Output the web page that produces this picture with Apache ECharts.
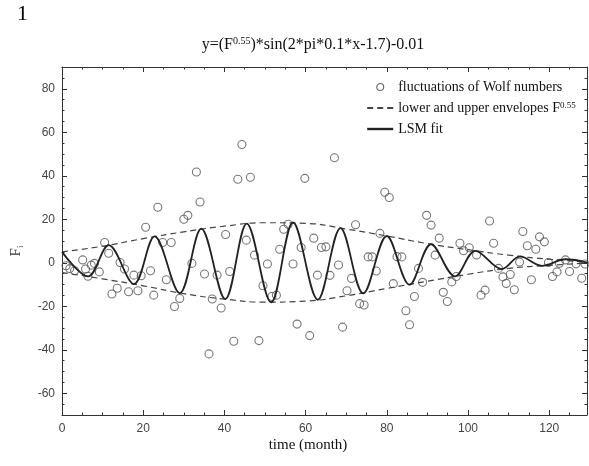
<!DOCTYPE html>
<html><head><meta charset="utf-8">
<script src="https://cdn.jsdelivr.net/npm/echarts@6/dist/echarts.min.js"></script>
<style>html,body{margin:0;padding:0;background:#fff}#c{width:589px;height:466px}</style>
</head><body><div id="c"></div>
<script>
// Data
const wolfX = [1.0,1.9,3.1,5.1,5.8,6.4,7.2,8.0,9.2,10.5,11.5,12.3,13.6,14.3,15.4,16.4,17.7,18.7,19.5,20.6,21.8,22.6,23.6,24.8,25.7,26.9,27.7,29.0,30.0,31.0,32.0,33.1,34.0,35.1,36.2,37.0,38.2,39.2,40.3,41.3,42.3,43.3,44.3,45.4,46.4,47.4,48.5,49.5,50.6,51.7,52.8,53.6,54.6,55.7,56.9,57.9,58.9,59.8,61.0,62.0,62.9,63.9,65.0,66.0,67.1,68.1,69.1,70.2,71.3,72.3,73.3,74.4,75.4,76.4,77.4,78.3,79.5,80.6,81.6,82.5,83.7,84.7,85.6,86.8,87.8,88.8,89.8,90.9,91.9,92.9,93.9,94.9,96.0,97.1,98.0,98.9,100.3,102.1,103.2,104.2,105.3,106.3,107.5,108.6,109.4,110.4,111.4,112.7,113.5,114.6,115.6,116.7,117.6,118.8,119.8,120.8,121.9,122.5,124.0,125.0,126.6,128.0,128.8];
const wolfY = [-1.4,-2.7,-3.7,1.3,-2.9,-6.2,-1.1,-0.3,-4.2,9.3,4.4,-14.4,-11.7,0.1,-2.9,-13.3,-5.7,-12.9,-6.0,16.3,-3.7,-14.9,25.5,9.3,-7.8,9.3,-20.1,-16.4,20.0,21.8,-0.3,41.7,27.9,-5.2,-41.9,-16.7,-5.7,-20.8,13.0,-4.0,-36.1,38.4,54.4,10.4,39.3,3.5,-35.8,-10.6,-0.6,-15.5,-14.9,6.2,15.4,17.7,-0.6,-28.2,7.0,38.8,-33.5,11.3,-5.7,7.0,7.3,-5.8,48.3,-1.0,-29.6,-12.9,-7.2,17.5,-18.8,-19.4,2.7,2.7,-3.8,13.5,32.4,30.0,-9.6,2.8,2.7,-22.1,-28.5,-15.5,-2.6,-9.0,21.8,17.3,3.5,11.3,-13.6,-17.8,-8.8,-6.3,9.0,5.5,6.9,3.6,-14.9,-12.6,19.2,9.0,-2.6,-6.5,-9.5,-5.4,-12.4,0.3,14.4,7.8,-7.8,6.2,11.9,9.6,0.1,-6.3,-4.2,-0.2,1.3,-4.0,-0.5,-7.1,-0.6];

const fitX = [0,6.4,11.5,17.7,22.8,29.0,34.3,40.2,45.5,51.5,56.9,63.0,68.6,74.2,80.0,85.6,90.9,96.8,101.8,108.3,112.8,118.2,124.0,129.3];
const fitY = [5.0,-6.3,8.1,-9.8,12.1,-14.0,15.7,-16.7,18.0,-18.2,18.5,-17.0,15.9,-14.1,12.3,-10.1,8.5,-6.3,5.5,-2.9,2.9,-1.4,1.6,0.1];

const envX = [0,10,20,30,40,50,60,70,80,90,100,110,120,129.3];
const upperY = [5.0,7.6,11.1,14.2,16.8,18.4,18.1,15.5,12.3,8.8,6.0,3.5,1.6,0.3];
const lowerY = [-4.5,-7.4,-10.6,-14.2,-16.7,-18.1,-17.6,-15.2,-11.8,-8.5,-5.3,-2.6,-1.2,-0.2];

const xTicks = [0,20,40,60,80,100,120];
const yTicks = [-60,-40,-20,0,20,40,60,80];
const xRange = [0,129.3];
const yRange = [-70,90];

const nameWolf = 'fluctuations of Wolf numbers';
const nameEnv = 'lower and upper envelopes F0.55';
const nameFit = 'LSM fit';

const zip = (a,b) => a.map((v,i)=>[v,b[i]]);
const serif = '"Liberation Serif", "Times New Roman", serif';
const sans = '"Liberation Sans", Arial, sans-serif';
const axCol = '#333';

function xAx(pos, major){
  return {
    type:'value', min:xRange[0], max:xRange[1], position:pos,
    interval: major ? undefined : 5,
    axisLine:{show:major, onZero:false, lineStyle:{color:axCol,width:1}},
    axisTick: major ? {show:true, inside:true, length:5, customValues:xTicks, lineStyle:{color:axCol}}
                    : {show:true, inside:true, length:2.5, lineStyle:{color:axCol}},
    axisLabel: (major && pos==='bottom') ? {show:true, customValues:xTicks, color:'#444', fontSize:12, fontFamily:sans, margin:8} : {show:false},
    splitLine:{show:false}
  };
}
function yAx(pos, major){
  return {
    type:'value', min:yRange[0], max:yRange[1], position:pos,
    interval: major ? undefined : 5,
    axisLine:{show:major, onZero:false, lineStyle:{color:axCol,width:1}},
    axisTick: major ? {show:true, inside:true, length:5, customValues:yTicks, lineStyle:{color:axCol}}
                    : {show:true, inside:true, length:2.5, lineStyle:{color:axCol}},
    axisLabel: (major && pos==='left') ? {show:true, customValues:yTicks, color:'#444', fontSize:12, fontFamily:sans, margin:7} : {show:false},
    splitLine:{show:false}
  };
}

const chart = echarts.init(document.getElementById('c'), null, {renderer:'canvas'});
chart.setOption({
  animation:false,
  backgroundColor:'#fff',
  grid:{left:62, right:2, top:67, bottom:51, containLabel:false},
  xAxis:[xAx('bottom',true), xAx('bottom',false), xAx('top',true), xAx('top',false)],
  yAxis:[yAx('left',true), yAx('left',false), yAx('right',true), yAx('right',false)],
  legend:{
    orient:'vertical', left:366, top:80, padding:0, itemWidth:26, itemHeight:7, itemGap:7,
    data:[
      {name:nameWolf, itemStyle:{borderWidth:1.1, borderColor:'#444', color:'rgba(255,255,255,0)'}},
      {name:nameEnv, itemStyle:{opacity:0}},
      {name:nameFit, itemStyle:{opacity:0}, lineStyle:{width:2.4}}
    ],
    formatter: function(n){
      if (n === nameEnv) return '{a|lower and upper envelopes F}{s|0.55}';
      return '{a|' + n + '}';
    },
    textStyle:{
      color:'#111',
      rich:{
        a:{fontSize:14, fontFamily:serif, color:'#111', lineHeight:14},
        s:{fontSize:9, fontFamily:serif, color:'#111', lineHeight:8, verticalAlign:'top'}
      }
    }
  },
  graphic:[
    {type:'text', left:17, top:3, style:{text:'1', font:'22px '+serif, fill:'#000'}},
    {type:'text', x:313, y:45, style:{
      text:'{a|y=(F}{s|0.55}{a|)*sin(2*pi*0.1*x-1.7)-0.01}',
      align:'center', verticalAlign:'middle',
      rich:{
        a:{fontSize:16, fontFamily:serif, fill:'#111', lineHeight:18},
        s:{fontSize:10, fontFamily:serif, fill:'#111', lineHeight:9, verticalAlign:'top'}
      }
    }},
    {type:'text', x:308, y:445, style:{text:'time (month)', font:'15px '+serif, fill:'#111', align:'center', verticalAlign:'middle'}},
    {type:'text', x:16, y:251, rotation:Math.PI/2, style:{
      text:'{a|F}{b|i}', align:'center', verticalAlign:'middle',
      rich:{
        a:{fontSize:15, fontFamily:serif, fill:'#333', lineHeight:18},
        b:{fontSize:9, fontFamily:serif, fill:'#333', lineHeight:9, verticalAlign:'bottom'}
      }
    }}
  ],
  series:[
    {
      name:nameWolf, type:'scatter', xAxisIndex:0, yAxisIndex:0,
      data: zip(wolfX, wolfY), symbol:'circle', symbolSize:8,
      itemStyle:{color:'rgba(255,255,255,0)', borderColor:'#555', borderWidth:1.1},
      z:2
    },
    {
      name:nameEnv, type:'line', xAxisIndex:0, yAxisIndex:0,
      data: zip(envX, upperY), smooth:0.5, symbol:'none', showSymbol:false,
      itemStyle:{color:'#444'},
      lineStyle:{color:'#444', width:1.2, type:[6,4]}, z:3
    },
    {
      name:nameEnv, type:'line', xAxisIndex:0, yAxisIndex:0,
      data: zip(envX, lowerY), smooth:0.5, symbol:'none', showSymbol:false,
      itemStyle:{color:'#444'},
      lineStyle:{color:'#444', width:1.2, type:[6,4]}, z:3
    },
    {
      name:nameFit, type:'line', xAxisIndex:0, yAxisIndex:0,
      data: zip(fitX, fitY), smooth:0.35, symbol:'none', showSymbol:false,
      itemStyle:{color:'#222'},
      lineStyle:{color:'#222', width:1.8}, z:4
    }
  ]
});
</script>
</body></html>
